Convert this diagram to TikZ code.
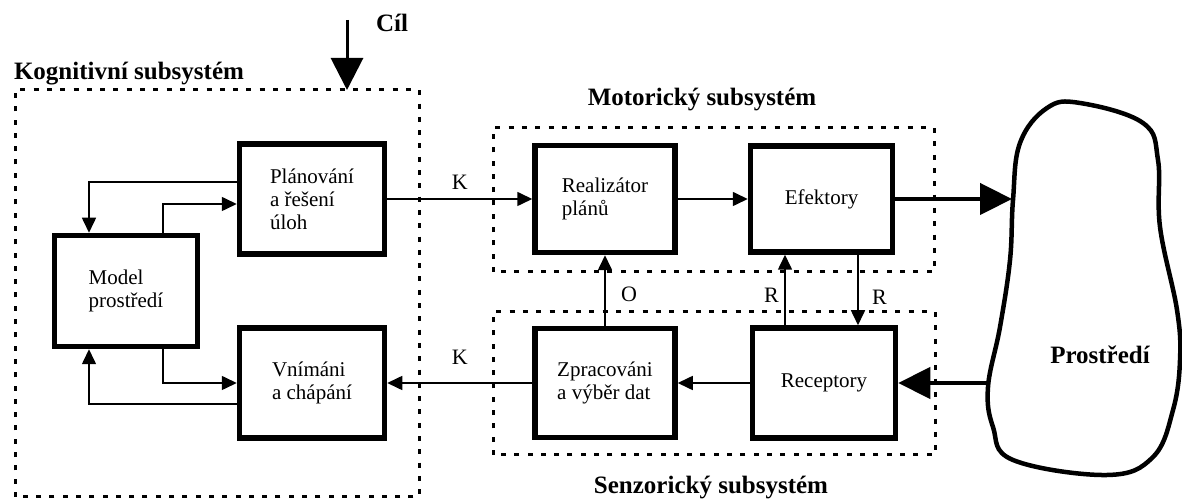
\documentclass[tikz,border=0pt]{standalone}
\usepackage{fontspec}
\setmainfont{Liberation Serif}
\usetikzlibrary{arrows.meta,positioning,calc}

\begin{document}
\begin{tikzpicture}[x=1pt, y=1pt,
    blok/.style={draw, line width=5.5pt, align=left, inner sep=0pt, font=\fontsize{21}{23}\selectfont},
    ramec/.style={line width=3pt, dash pattern=on 5pt off 8.3pt},
    nadpis/.style={font=\fontsize{25}{28}\selectfont\bfseries},
    znak/.style={font=\fontsize{22}{24}\selectfont},
    sip/.style={line width=1.6pt, -{Triangle[length=15pt,width=14pt]}},
    tlsip/.style={line width=4.5pt, -{Triangle[length=32pt,width=31pt]}}]
  \useasboundingbox (0,0) rectangle (1182,500);
  % subsystem frames
  \draw[ramec] (15,3) rectangle (419,410);
  \draw[ramec] (493,228) rectangle (934,372);
  \draw[ramec] (493,45) rectangle (935,188);
  \node[nadpis] (kog) at (129,426) {Kognitivní subsystém};
  \node[nadpis] (mot) at (702,400) {Motorický subsystém};
  \node[nadpis] (sen) at (711,12) {Senzorický subsystém};
  % goal
  \node[nadpis] (cil) at (392,477) {Cíl};
  \coordinate (cilz) at (347,480);
  \coordinate (cilk) at (347,410);
  \draw[line width=3pt, -{Triangle[length=32pt,width=32pt]}] (cilz) -- (cilk);
  % blocks
  \node[blok, minimum width=145, minimum height=110] (plan) at (312,301) {Plánování\\a řešení\\úloh};
  \node[blok, minimum width=143, minimum height=111] (model) at (126,209) {Model\\prostředí};
  \node[blok, minimum width=145, minimum height=110] (vnim) at (312,117) {Vnímáni\\a chápání};
  \node[blok, minimum width=140, minimum height=107] (real) at (605,301) {Realizátor\\plánů};
  \node[blok, minimum width=142, minimum height=106] (efek) at (821.5,301) {Efektory};
  \node[blok, minimum width=140, minimum height=109] (zprac) at (605,117) {Zpracováni\\a výběr dat};
  \node[blok, minimum width=143, minimum height=110] (recep) at (824,117) {Receptory};
  % environment
  \draw[line width=4.5pt] plot[smooth cycle, tension=0.65] coordinates {
    (1047,392) (1080,397) (1143,377) (1158,340) (1160,273) (1177,190)
    (1180,140) (1173,90) (1153,43) (1107,25) (1013,40) (993,73)
    (988,113) (1000,173) (1010,240) (1013,300) (1020,357)};
  \node[nadpis] (env) at (1100,145) {Prostředí};
  \coordinate (envin) at (1012,301);
  \coordinate (envout) at (989,117);
  % cognitive loop
  \draw[sip] ([yshift=17pt]plan.west) -| ([xshift=-37pt]model.north);
  \draw[sip] ([xshift=37pt]model.north) |- ([yshift=-5pt]plan.west);
  \draw[sip] ([xshift=37pt]model.south) |- (vnim.west);
  \draw[sip] ([yshift=-21pt]vnim.west) -| ([xshift=-37pt]model.south);
  % links between subsystems
  \draw[sip] (plan.east) -- node[znak, above=5pt] {K} (real.west);
  \draw[sip] (real.east) -- (efek.west);
  \draw[sip] (zprac.west) -- node[znak, above=14pt] {K} (vnim.east);
  \draw[sip] (recep.west) -- (zprac.east);
  \draw[sip] (zprac.north) -- node[znak, right=12pt, pos=0.45] {O} (real.south);
  \draw[sip] ([xshift=-39pt]recep.north) -- node[znak, left=2pt, pos=0.42] {R} ([xshift=-39pt]recep.north |- efek.south);
  \draw[sip] ([xshift=36.5pt]efek.south) -- node[znak, right=10pt, pos=0.6] {R} ([xshift=36.5pt]efek.south |- recep.north);
  \draw[tlsip] (efek.east) -- (envin);
  \draw[tlsip] (envout) -- (recep.east);
\end{tikzpicture}
\end{document}
